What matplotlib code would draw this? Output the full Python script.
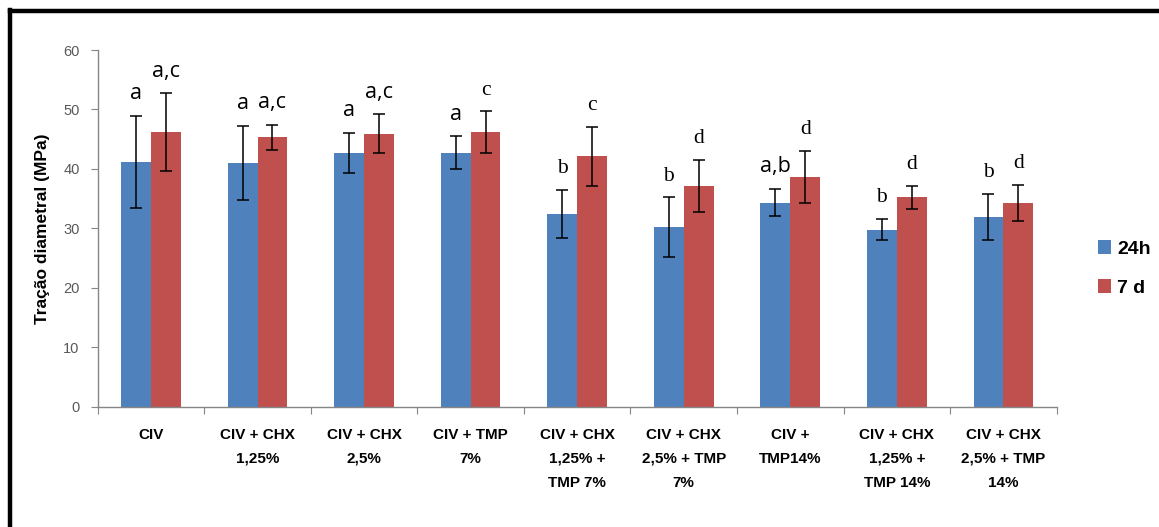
import numpy as np
import matplotlib
matplotlib.use('Agg')
import matplotlib.pyplot as plt
from matplotlib.lines import Line2D

plt.rcParams['font.family'] = ['Liberation Sans', 'DejaVu Sans']

# ---------------- dados ----------------
grupos = ['CIV', 'CIV + CHX\n1,25%', 'CIV + CHX\n2,5%', 'CIV + TMP\n7%',
          'CIV + CHX\n1,25% +\nTMP 7%', 'CIV + CHX\n2,5% + TMP\n7%',
          'CIV +\nTMP14%', 'CIV + CHX\n1,25% +\nTMP 14%', 'CIV + CHX\n2,5% + TMP\n14%']

media_24h = [41.2, 41.0, 42.7, 42.7, 32.4, 30.2, 34.3, 29.8, 31.9]
dp_24h = [7.7, 6.2, 3.4, 2.8, 4.1, 5.0, 2.3, 1.8, 3.9]
letras_24h = ['a', 'a', 'a', 'a', 'b', 'b', 'a,b', 'b', 'b']

media_7d = [46.2, 45.3, 45.9, 46.2, 42.1, 37.1, 38.6, 35.2, 34.3]
dp_7d = [6.5, 2.1, 3.3, 3.5, 5.0, 4.4, 4.4, 2.0, 3.0]
letras_7d = ['a,c', 'a,c', 'a,c', 'c', 'c', 'd', 'd', 'd', 'd']

cor_24h = '#4F81BD'
cor_7d = '#C0504D'

SANS = ['Open Sans', 'DejaVu Sans']
SERIF = ['Liberation Serif', 'DejaVu Serif']


def letra(ax, xi, topo, txt):
    # no original as letras com "a" estao em fonte sem serifa, as outras com serifa
    fam = SANS if 'a' in txt else SERIF
    ax.annotate(txt, (xi, topo), xytext=(0, 12), textcoords='offset points',
                ha='center', va='baseline', fontsize=15.5, family=fam)


# ---------------- figura ----------------
fig = plt.figure(figsize=(11.59, 5.27), dpi=100)
ax = fig.add_axes([0.0843, 0.2283, 0.8274, 0.6768])

x = np.arange(len(grupos))
w = 0.28

ax.bar(x - w / 2, media_24h, w, color=cor_24h, label='24h', zorder=2)
ax.bar(x + w / 2, media_7d, w, color=cor_7d, label='7 d', zorder=2)
ax.errorbar(x - w / 2, media_24h, yerr=dp_24h, fmt='none', ecolor='black',
            elinewidth=1.1, capsize=4, capthick=1.1, zorder=3)
ax.errorbar(x + w / 2, media_7d, yerr=dp_7d, fmt='none', ecolor='black',
            elinewidth=1.1, capsize=4, capthick=1.1, zorder=3)

for xi, m, d, t in zip(x - w / 2, media_24h, dp_24h, letras_24h):
    letra(ax, xi, m + d, t)
for xi, m, d, t in zip(x + w / 2, media_7d, dp_7d, letras_7d):
    letra(ax, xi, m + d, t)

ax.set_xlim(-0.5, len(grupos) - 0.5)
ax.set_ylim(0, 60)
ax.set_yticks(np.arange(0, 61, 10))

# ticks nos limites dos grupos, rotulos no centro
ax.set_xticks(np.arange(-0.5, len(grupos), 1.0))
ax.set_xticklabels([])
ax.set_xticks(x, minor=True)
ax.set_xticklabels(grupos, minor=True, fontsize=11, fontweight='bold',
                   linespacing=1.95)
ax.tick_params(axis='x', which='minor', length=0, pad=15)
ax.tick_params(axis='x', which='major', length=5, color='#868686', direction='out')
ax.tick_params(axis='y', length=5, color='#868686', labelsize=10.5,
               labelcolor='#595959', pad=8)

for s in ['top', 'right']:
    ax.spines[s].set_visible(False)
for s in ['left', 'bottom']:
    ax.spines[s].set_color('#868686')
    ax.spines[s].set_linewidth(1.0)

ax.set_ylabel('Tração diametral (MPa)', fontsize=12.5, fontweight='bold')
ax.yaxis.set_label_coords(-0.050, 0.5)

leg = fig.legend(loc='center left', bbox_to_anchor=(0.932, 0.491), frameon=False,
                 handlelength=0.7, handleheight=0.7, handletextpad=0.3,
                 labelspacing=1.1, prop={'size': 14, 'weight': 'bold'})

# moldura (linha superior e esquerda)
fig.add_artist(Line2D([0.0085, 1.0], [0.9791, 0.9791], color='black', lw=3.2,
                      transform=fig.transFigure))
fig.add_artist(Line2D([0.0087, 0.0087], [0.0, 0.981], color='black', lw=3.2,
                      transform=fig.transFigure))

fig.savefig('out.png', dpi=100)
